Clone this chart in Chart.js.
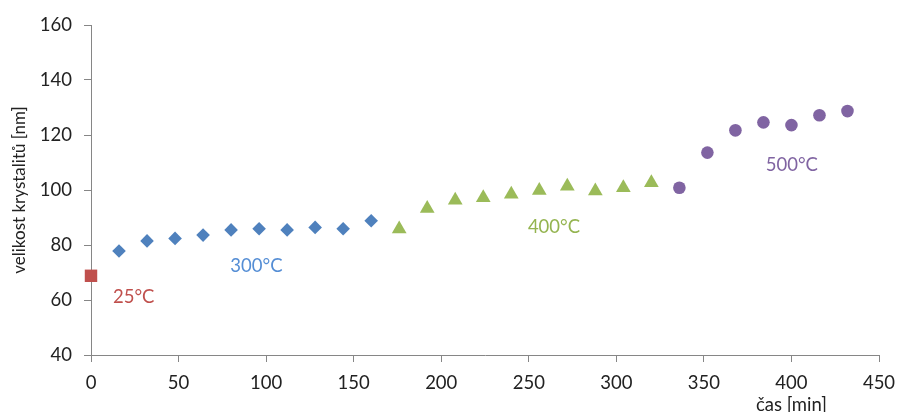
<!DOCTYPE html>
<html>
<head>
<meta charset="utf-8">
<title>velikost krystalitů</title>
<script src="https://cdn.jsdelivr.net/npm/chart.js@4/dist/chart.umd.min.js"></script>
<style>
  html, body { margin: 0; padding: 0; background: #fff; }
  #wrap { width: 898px; height: 412px; }
</style>
</head>
<body>
<div id="wrap"><canvas id="myChart" width="898" height="412"></canvas></div>
<script>
// cas [min] / velikost krystalitu [nm] for each annealing temperature
var times25 = [0]
var size25 = [68.8]
var times300 = [16, 32, 48, 64, 80, 96, 112, 128, 144, 160]
var size300 = [77.8, 81.5, 82.4, 83.6, 85.5, 85.9, 85.5, 86.4, 85.9, 88.8]
var times400 = [176, 192, 208, 224, 240, 256, 272, 288, 304, 320]
var size400 = [85.8, 93.3, 96.3, 97.2, 98.5, 99.8, 101.4, 99.6, 100.8, 102.6]
var times500 = [336, 352, 368, 384, 400, 416, 432]
var size500 = [100.8, 113.6, 121.7, 124.6, 123.6, 127.2, 128.7]

// temperature labels, anchored in data units
var tempLabels = ["25°C", "300°C", "400°C", "500°C"]
var tempLabelX = [24.4, 94.5, 264.4, 400.2]
var tempLabelY = [60.9, 72.4, 86.4, 109.1]
var tempLabelColors = ["#C0504D", "#558ED5", "#94B450", "#8064A2"]

var xTicks = [0, 50, 100, 150, 200, 250, 300, 350, 400, 450]
var yTicks = [40, 60, 80, 100, 120, 140, 160]

var FONT = "Lato, 'Open Sans', sans-serif"
var AXIS = "#868686"

function pts(xs, ys) {
	var out = []
	xs.forEach(function (v, i) { out.push({x: v, y: ys[i]}) })
	return out
}

var tempText = {
	id: "tempText",
	afterDatasetsDraw: function (chart) {
		var ctx = chart.ctx, sx = chart.scales.x, sy = chart.scales.y
		ctx.save()
		ctx.font = "18.5px " + FONT
		ctx.textAlign = "center"
		ctx.textBaseline = "middle"
		tempLabels.forEach(function (t, i) {
			ctx.fillStyle = tempLabelColors[i]
			ctx.fillText(t, sx.getPixelForValue(tempLabelX[i]), sy.getPixelForValue(tempLabelY[i]))
		})
		// x axis title sits under the 400 tick
		ctx.fillStyle = "#222"
		ctx.textBaseline = "alphabetic"
		ctx.fillText("čas [min]", sx.getPixelForValue(400), 411)
		ctx.restore()
	}
}

var ctx = document.getElementById("myChart")
var myChart = new Chart(ctx, {
	type: "scatter",
	data: {
		datasets: [
			{label: "25°C", data: pts(times25, size25), pointStyle: "rect", pointRadius: 8.8,
				backgroundColor: "#C0504D", borderWidth: 0, clip: false},
			{label: "300°C", data: pts(times300, size300), pointStyle: "rectRot", pointRadius: 6.8,
				backgroundColor: "#4F81BD", borderWidth: 0, clip: false},
			{label: "400°C", data: pts(times400, size400), pointStyle: "triangle", pointRadius: 8.5,
				backgroundColor: "#9BBB59", borderWidth: 0, clip: false},
			{label: "500°C", data: pts(times500, size500), pointStyle: "circle", pointRadius: 6.3,
				backgroundColor: "#8064A2", borderWidth: 0, clip: false}
		]
	},
	options: {
		responsive: false,
		animation: false,
		devicePixelRatio: 1,
		layout: {padding: {top: 25, right: 19, left: 0, bottom: 0}},
		plugins: {legend: {display: false}, tooltip: {enabled: false}},
		scales: {
			x: {
				type: "linear", min: 0, max: 450,
				afterBuildTicks: function (s) { s.ticks = xTicks.map(function (v) { return {value: v} }) },
				afterFit: function (s) {
					s.height = 57
					s.paddingLeft = 0
					s.paddingRight = 0
				},
				grid: {drawOnChartArea: false, drawTicks: true, tickLength: 7, color: AXIS},
				border: {color: AXIS, width: 1},
				ticks: {color: "#222", padding: 10, font: {family: FONT, size: 18.5}, maxRotation: 0}
			},
			y: {
				type: "linear", min: 40, max: 160,
				afterBuildTicks: function (s) { s.ticks = yTicks.map(function (v) { return {value: v} }) },
				afterFit: function (s) { s.width = 91 },
				grid: {drawOnChartArea: false, drawTicks: true, tickLength: 7, color: AXIS},
				border: {color: AXIS, width: 1},
				ticks: {color: "#222", padding: 12, font: {family: FONT, size: 18.5}},
				title: {display: true, text: "velikost krystalitů [nm]", color: "#222",
					font: {family: FONT, size: 17}, padding: {top: 9, bottom: 0}}
			}
		}
	},
	plugins: [tempText]
})
</script>
</body>
</html>
